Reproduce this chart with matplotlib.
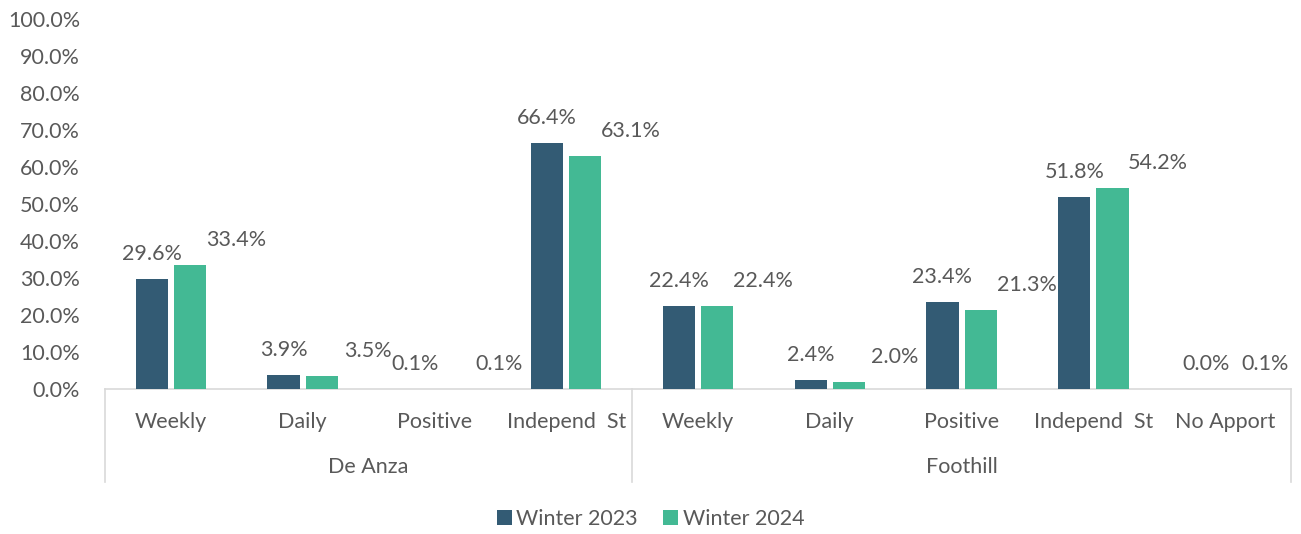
import matplotlib

matplotlib.use("Agg")
import matplotlib.pyplot as plt
import matplotlib.transforms as mtransforms
import numpy as np

plt.rcParams["font.family"] = ["Lato", "DejaVu Sans"]

groups = ["De Anza", "Foothill"]
group_sizes = [4, 5]
categories = ["Weekly", "Daily", "Positive", "Independ  St",
              "Weekly", "Daily", "Positive", "Independ  St", "No Apport"]
winter_2023 = [29.6, 3.9, 0.1, 66.4, 22.4, 2.4, 23.4, 51.8, 0.0]
winter_2024 = [33.4, 3.5, 0.1, 63.1, 22.4, 2.0, 21.3, 54.2, 0.1]
series_names = ["Winter 2023", "Winter 2024"]

DARK = "#335B74"
GREEN = "#43B994"
TEXT = "#595959"
LINE = "#D9D9D9"
FS = 15.5

fig = plt.figure(figsize=(13.01, 5.34), dpi=100)
ax = fig.add_axes([105 / 1301, 145 / 534, 1186 / 1301, 370 / 534])

x = np.arange(len(categories))
w = 0.245
gap = 0.045
b1 = ax.bar(x - w / 2 - gap / 2, winter_2023, w, color=DARK, label=series_names[0], zorder=3)
b2 = ax.bar(x + w / 2 + gap / 2, winter_2024, w, color=GREEN, label=series_names[1], zorder=3)

for xi, v in zip(x - w / 2 - gap / 2, winter_2023):
    ax.annotate(f"{v:.1f}%", (xi, v), xytext=(0, 18), textcoords="offset points",
                ha="center", va="center", fontsize=FS, color=TEXT)
for i, (xi, v) in enumerate(zip(x + w / 2 + gap / 2, winter_2024)):
    dx = 15 if i == len(categories) - 1 else 33
    ax.annotate(f"{v:.1f}%", (xi, v), xytext=(dx, 18), textcoords="offset points",
                ha="center", va="center", fontsize=FS, color=TEXT)

ax.set_xlim(-0.5, len(categories) - 0.5)
ax.set_ylim(0, 100)
ax.set_yticks(np.arange(0, 101, 10))
ax.set_yticklabels([f"{t:.1f}%" for t in np.arange(0, 101, 10)])
ax.tick_params(axis="y", length=0, labelsize=FS, labelcolor=TEXT, pad=18)
ax.set_xticks([])
for side in ["top", "right", "left"]:
    ax.spines[side].set_visible(False)
ax.spines["bottom"].set_color(LINE)
ax.spines["bottom"].set_linewidth(1.2)

trans = mtransforms.blended_transform_factory(ax.transData, ax.transAxes)
for xi, lab in zip(x, categories):
    ax.text(xi, -33 / 370, lab, transform=trans, ha="center", va="center",
            fontsize=FS, color=TEXT)

edges = np.concatenate([[0], np.cumsum(group_sizes)]) - 0.5
for e in edges:
    ax.plot([e, e], [0, -93 / 370], transform=trans, color=LINE, lw=1.2, clip_on=False)
for g, lo, hi in zip(groups, edges[:-1], edges[1:]):
    ax.text((lo + hi) / 2, -78 / 370, g, transform=trans, ha="center", va="center",
            fontsize=FS, color=TEXT)

fig.legend(handles=[b1, b2], labels=series_names, loc="center", bbox_to_anchor=(0.5, 15 / 534),
           ncol=2, frameon=False, fontsize=FS, labelcolor=TEXT, handlelength=0.7,
           handleheight=0.7, handletextpad=0.2, columnspacing=1.2)

fig.savefig("out.png", dpi=100)
